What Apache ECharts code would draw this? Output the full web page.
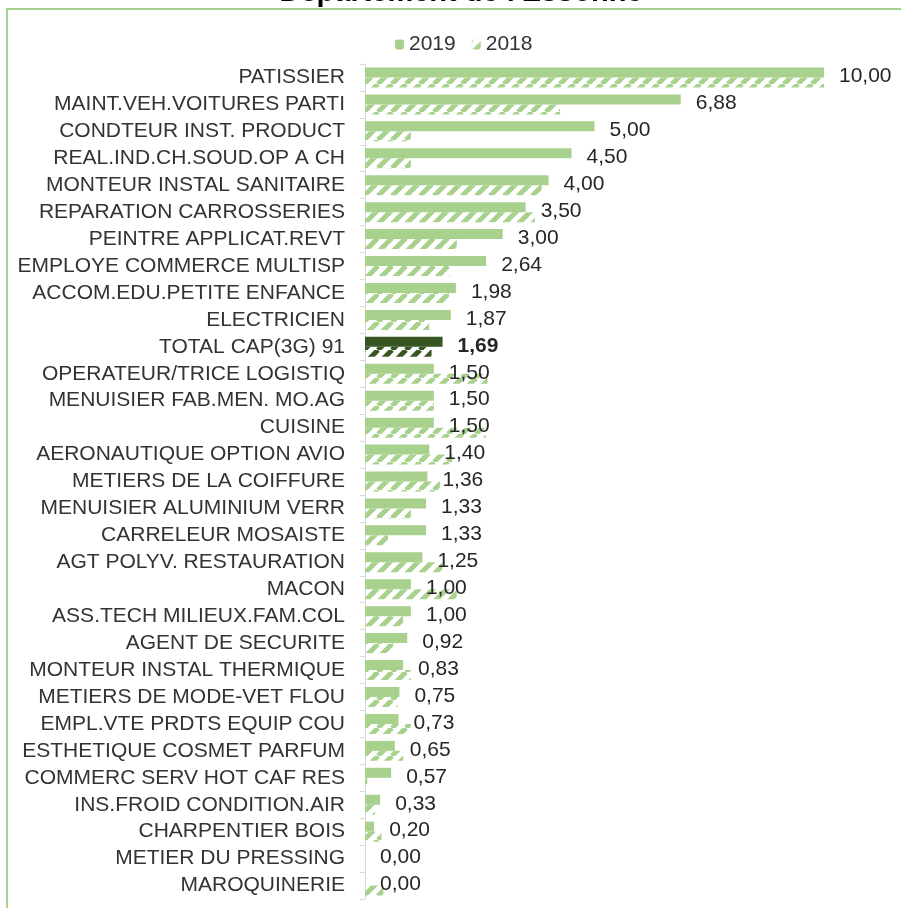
<!DOCTYPE html>
<html>
<head>
<meta charset="utf-8">
<title>CAP - Département de l'Essonne</title>
<script src="https://cdn.jsdelivr.net/npm/echarts@6/dist/echarts.min.js"></script>
<style>
  html, body { margin: 0; padding: 0; background: #fff; }
  #chart { width: 901px; height: 908px; }
</style>
</head>
<body>
<div id="chart"></div>
<script>
  // categories, top to bottom
  var categories = [
    'PATISSIER', 'MAINT.VEH.VOITURES PARTI', 'CONDTEUR INST. PRODUCT', 'REAL.IND.CH.SOUD.OP A CH',
    'MONTEUR INSTAL SANITAIRE', 'REPARATION CARROSSERIES', 'PEINTRE APPLICAT.REVT', 'EMPLOYE COMMERCE MULTISP',
    'ACCOM.EDU.PETITE ENFANCE', 'ELECTRICIEN', 'TOTAL CAP(3G) 91', 'OPERATEUR/TRICE LOGISTIQ',
    'MENUISIER FAB.MEN. MO.AG', 'CUISINE', 'AERONAUTIQUE OPTION AVIO', 'METIERS DE LA COIFFURE',
    'MENUISIER ALUMINIUM VERR', 'CARRELEUR MOSAISTE', 'AGT POLYV. RESTAURATION', 'MACON',
    'ASS.TECH MILIEUX.FAM.COL', 'AGENT DE SECURITE', 'MONTEUR INSTAL THERMIQUE', 'METIERS DE MODE-VET FLOU',
    'EMPL.VTE PRDTS EQUIP COU', 'ESTHETIQUE COSMET PARFUM', 'COMMERC SERV HOT CAF RES', 'INS.FROID CONDITION.AIR',
    'CHARPENTIER BOIS', 'METIER DU PRESSING', 'MAROQUINERIE'
  ];

  var values2019 = [
    10.00, 6.88, 5.00, 4.50, 4.00, 3.50, 3.00, 2.64, 1.98, 1.87, 1.69, 1.50, 1.50, 1.50, 1.40, 1.36,
    1.33, 1.33, 1.25, 1.00, 1.00, 0.92, 0.83, 0.75, 0.73, 0.65, 0.57, 0.33, 0.20, 0.00, 0.00
  ];

  // lus sur les barres hachurées (estimation)
  var values2018 = [
    10.00, 4.25, 1.00, 1.00, 3.85, 3.70, 2.00, 1.85, 1.83, 1.40, 1.45, 2.67, 1.50, 2.63, 1.90, 1.63,
    1.00, 0.50, 1.69, 2.00, 0.83, 0.62, 1.00, 0.71, 1.00, 0.83, 0.05, 0.22, 0.36, 0.00, 0.40
  ];

  var totalName = 'TOTAL CAP(3G) 91';
  var lightGreen = '#a9d18e';
  var darkGreen = '#375623';

  /* motif hachuré (diagonale montante) */
  function makeHatch(color) {
    var size = 14;
    var cv = document.createElement('canvas');
    cv.width = size;
    cv.height = size;
    var ctx = cv.getContext('2d');
    ctx.strokeStyle = color;
    ctx.lineWidth = 5;
    ctx.beginPath();
    for (var k = -1; k <= 1; k++) {
      ctx.moveTo(k * size, size);
      ctx.lineTo(k * size + size, 0);
    }
    ctx.stroke();
    return {image: cv, repeat: 'repeat'};
  }

  var hatchLight = makeHatch(lightGreen);
  var hatchDark = makeHatch(darkGreen);

  function fmt(v) {
    return v.toFixed(2).replace('.', ',');
  }

  var data2019 = values2019.map(function (v, i) {
    if (categories[i] === totalName) {
      return {value: v, itemStyle: {color: darkGreen}, label: {fontWeight: 'bold'}};
    }
    return v;
  });

  var data2018 = values2018.map(function (v, i) {
    if (categories[i] === totalName) {
      return {value: v, itemStyle: {color: hatchDark}};
    }
    return v;
  });

  var myChart = echarts.init(document.getElementById('chart'));
  myChart.setOption({
    animation: false,
    textStyle: {fontFamily: '"Liberation Sans", Arial, sans-serif'},
    graphic: [
      {
        type: 'text',
        x: 461,
        y: -7,
        style: {
          text: "Département de l'Essonne",
          x: 0,
          y: 0,
          align: 'center',
          verticalAlign: 'middle',
          fill: '#000',
          font: 'bold 29px "Liberation Sans", Arial, sans-serif'
        }
      },
      {
        type: 'rect',
        shape: {x: 7, y: 9, width: 920, height: 940},
        style: {fill: 'none', stroke: lightGreen, lineWidth: 2},
        silent: true
      }
    ],
    legend: {
      left: 390,
      top: 29,
      itemWidth: 9,
      itemHeight: 10,
      itemGap: 16,
      textStyle: {fontSize: 21, color: '#333'},
      data: ['2019', '2018']
    },
    grid: {
      left: 365,
      right: 77,
      top: 64,
      bottom: 9
    },
    xAxis: {
      type: 'value',
      min: 0,
      max: 10,
      show: false
    },
    yAxis: {
      type: 'category',
      inverse: true,
      data: categories,
      axisLine: {show: true, lineStyle: {color: '#d9d9d9', width: 1}},
      axisTick: {show: true, length: 5, interval: 0, lineStyle: {color: '#d9d9d9'}},
      axisLabel: {
        interval: 0,
        margin: 20,
        fontSize: 21,
        color: '#333',
        padding: [4, 0, 0, 0]
      }
    },
    series: [
      {
        name: '2019',
        type: 'bar',
        barWidth: 10,
        barGap: '0%',
        itemStyle: {color: lightGreen},
        label: {
          show: true,
          position: 'right',
          distance: 15,
          offset: [0, 4],
          fontSize: 21,
          color: '#262626',
          formatter: function (p) {
            return fmt(p.value);
          }
        },
        data: data2019
      },
      {
        name: '2018',
        type: 'bar',
        barWidth: 10,
        barGap: '0%',
        itemStyle: {color: hatchLight},
        data: data2018
      }
    ]
  });
</script>
</body>
</html>
